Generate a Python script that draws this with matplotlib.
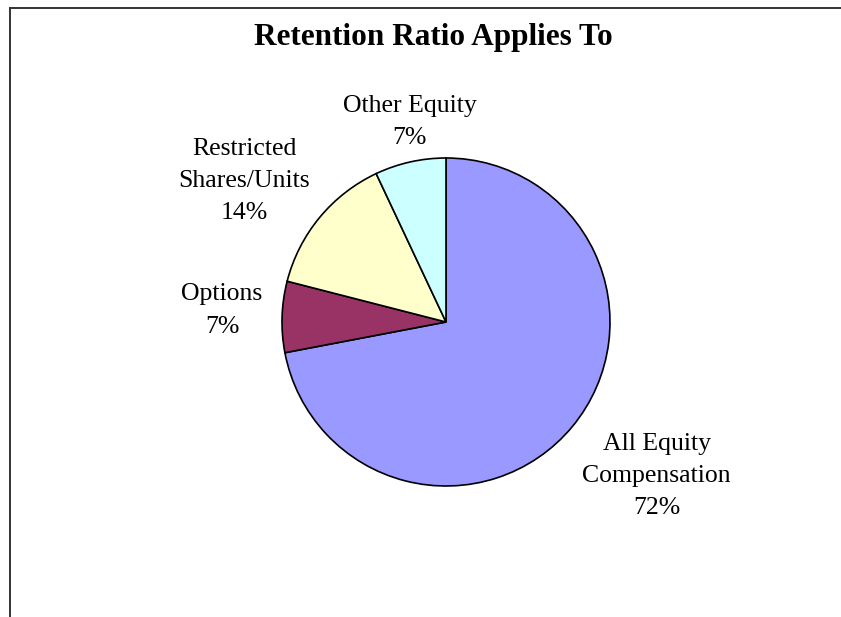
import matplotlib
matplotlib.use("Agg")
import matplotlib.pyplot as plt
from matplotlib.lines import Line2D

# ---- data ----
categories = ["All Equity\nCompensation", "Options", "Restricted\nShares/Units", "Other Equity"]
values = [72, 7, 14, 7]
colors = ["#9999FF", "#993366", "#FFFFCC", "#CCFFFF"]
title = "Retention Ratio Applies To"

# label positions (layout, in pie-radius units relative to centre)
label_pos = [(1.285, -0.94), (-1.366, 0.07), (-1.23, 0.86), (-0.22, 1.22)]

W, H = 841, 617
cx, cy, R = 446, 322, 164

plt.rcParams['font.family'] = ['Liberation Serif', 'DejaVu Serif']
fig = plt.figure(figsize=(W / 100, H / 100), dpi=100)
ax = fig.add_axes([0, 0, 1, 1])

wedges, _ = ax.pie(values, colors=colors, startangle=90, counterclock=False,
                   radius=1, center=(0, 0), frame=True,
                   wedgeprops=dict(edgecolor='black', linewidth=1.2))
ax.set_xlim(-cx / R, (W - cx) / R)
ax.set_ylim(-(H - cy) / R, cy / R)
ax.axis('off')

total = sum(values)
for cat, v, (lx, ly) in zip(categories, values, label_pos):
    ax.text(lx, ly, f"{cat}\n{round(100 * v / total)}%", ha='center', va='center',
            fontsize=18.5, linespacing=1.6, color='black')

fig.text(433 / W, 1 - 37 / H, title, ha='center', va='center',
         fontsize=22.5, fontweight='bold', color='black')

# chart area border (cropped at right/bottom)
fig.add_artist(Line2D([10 / W, 1.0], [1 - 8 / H, 1 - 8 / H], transform=fig.transFigure,
                      color='#333333', linewidth=1.4))
fig.add_artist(Line2D([10 / W, 10 / W], [0, 1 - 8 / H], transform=fig.transFigure,
                      color='#333333', linewidth=1.4))

fig.savefig("out.png", dpi=100, facecolor='white')
